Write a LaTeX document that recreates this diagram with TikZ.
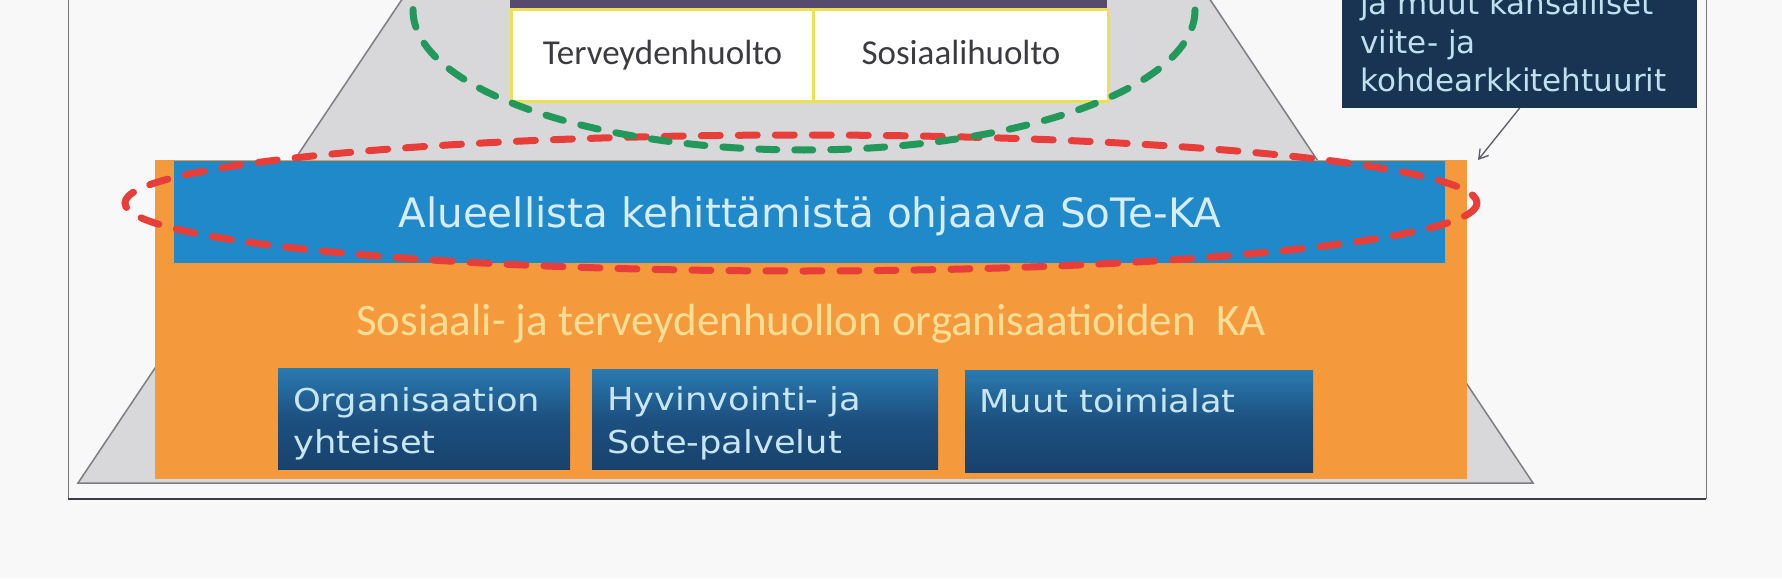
\documentclass[tikz,border=0pt]{standalone}
\usepackage{fontspec}
\setmainfont{Carlito}
\newfontfamily\dvs{DejaVu Sans}
\newfontfamily\dvsw[FakeStretch=1.12]{DejaVu Sans}
\usetikzlibrary{arrows.meta}
\definecolor{bgc}{RGB}{248,248,248}
\definecolor{framec}{RGB}{60,60,70}
\definecolor{pyrfill}{RGB}{216,216,218}
\definecolor{pyredge}{RGB}{125,125,130}
\definecolor{purp}{RGB}{88,74,108}
\definecolor{yel}{RGB}{238,224,84}
\definecolor{celltext}{RGB}{60,60,64}
\definecolor{orangef}{RGB}{244,154,60}
\definecolor{orangetext}{RGB}{250,222,150}
\definecolor{bandblue}{RGB}{32,137,201}
\definecolor{bandtext}{RGB}{214,236,246}
\definecolor{subtop}{RGB}{42,122,176}
\definecolor{submid}{RGB}{28,80,128}
\definecolor{subbot}{RGB}{24,66,108}
\definecolor{subtext}{RGB}{200,230,242}
\definecolor{navy}{RGB}{24,52,82}
\definecolor{navytext}{RGB}{192,224,238}
\definecolor{redd}{RGB}{232,62,58}
\definecolor{greend}{RGB}{34,152,90}
\definecolor{arrowc}{RGB}{90,90,100}
\begin{document}
\begin{tikzpicture}[x=1pt,y=-1pt,
  cellbox/.style={draw=yel, line width=3pt, fill=white, inner sep=0pt,
    anchor=north west, font=\fontsize{35}{40}\selectfont, text=celltext,
    text height=26pt, text depth=7pt},
  subbox/.style={inner sep=0pt, anchor=north west,
    top color=subtop, bottom color=subbot, middle color=submid},
  subtxt/.style={anchor=base west, inner sep=0pt, text=subtext,
    font=\dvsw\fontsize{31.5}{40}\selectfont},
  navytxt/.style={anchor=base west, inner sep=0pt, text=navytext,
    font=\dvs\fontsize{31}{38}\selectfont},
  reddash/.style={draw=redd, line width=7pt, line cap=round,
    dash pattern=on 19pt off 18pt},
  greendash/.style={draw=greend, line width=7pt, line cap=round,
    dash pattern=on 18pt off 18pt}
]
\useasboundingbox (0,0) rectangle (1782,578);
\fill[bgc] (0,0) rectangle (1782,578);
\begin{scope}
\clip (0,0) rectangle (1782,578);
% frame
\draw[framec!70, line width=1pt] (68,-5) -- (68,499);
\draw[framec!70, line width=1pt] (1706,-5) -- (1706,499);
\draw[framec, line width=1.6pt] (68,499) -- (1706,499);
% pyramid
\filldraw[fill=pyrfill, draw=pyredge, line width=1.5pt]
  (415,-20) -- (78,483) -- (1533,483) -- (1197,-20) -- cycle;
% top purple bar and cells
\fill[purp] (510,-20) rectangle (1107,8);
\node[cellbox, minimum width=302pt, minimum height=92pt] (terv) at (510,8) {Terveydenhuolto};
\node[cellbox, minimum width=295pt, minimum height=92pt] (sos) at (812,8) {Sosiaalihuolto};
% orange block
\node[fill=orangef, inner sep=0pt, anchor=north west, minimum width=1312pt, minimum height=319pt] (orng) at (155,160) {};
\node[fill=bandblue, inner sep=0pt, anchor=north west, minimum width=1271pt, minimum height=102pt] (band) at (174,161) {};
\node[anchor=base, inner sep=0pt, text=bandtext, font=\dvs\fontsize{40.5}{48}\selectfont] (bandlabel) at (810,227) {Alueellista kehittämistä ohjaava SoTe-KA};
\node[anchor=base, inner sep=0pt, text=orangetext, font=\fontsize{45}{52}\selectfont] (orglabel) at (811,335) {Sosiaali- ja terveydenhuollon organisaatioiden\ \ KA};
% sub boxes
\node[subbox, minimum width=292pt, minimum height=101pt] (b1) at (278,368) {};
\node[subbox, minimum width=346pt, minimum height=100pt] (b2) at (592,369) {};
\node[subbox, minimum width=348pt, minimum height=102pt] (b3) at (965,370) {};
\node[subtxt] (b1a) at (293,411) {Organisaation};
\node[subtxt] (b1b) at (293,453) {yhteiset};
\node[subtxt] (b2a) at (607,410) {Hyvinvointi- ja};
\node[subtxt] (b2b) at (607,453) {Sote-palvelut};
\node[subtxt] (b3a) at (979,412) {Muut toimialat};
% reference box top right
\node[fill=navy, inner sep=0pt, anchor=south west, minimum width=355pt, minimum height=140pt] (ref) at (1342,108) {};
\node[navytxt] (r1) at (1360,15) {ja muut kansalliset};
\node[navytxt] (r2) at (1360,53) {viite- ja};
\node[navytxt] (r3) at (1360,92) {kohdearkkitehtuurit};
\coordinate (arrtip) at (1478,160);
\draw[arrowc, line width=1.3pt, -{Straight Barb[length=9pt,width=11pt]}] (ref.south) -- (arrtip);
% dashed ellipses
\draw[reddash] (801,203) ellipse [x radius=676, y radius=68];
\draw[greendash] (804,10) ellipse [x radius=391, y radius=140];
\end{scope}
\end{tikzpicture}
\end{document}
